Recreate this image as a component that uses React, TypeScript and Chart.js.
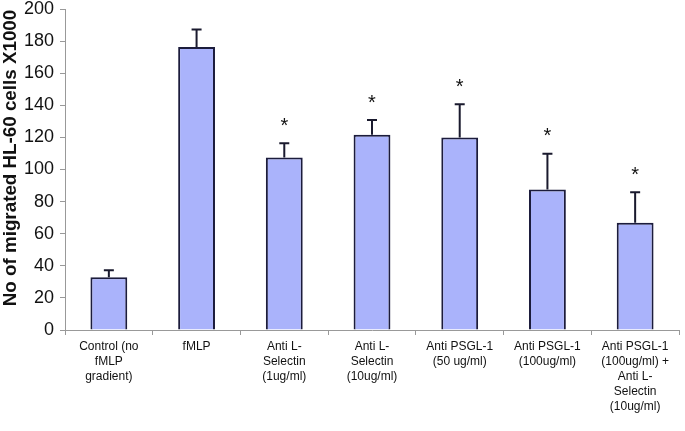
import React, { useEffect, useRef } from "react";
import { Chart, registerables } from "chart.js";

Chart.register(...registerables);

const categories: string[][] = [
  ["Control (no", "fMLP", "gradient)"],
  ["fMLP"],
  ["Anti L-", "Selectin", "(1ug/ml)"],
  ["Anti L-", "Selectin", "(10ug/ml)"],
  ["Anti PSGL-1", "(50 ug/ml)"],
  ["Anti PSGL-1", "(100ug/ml)"],
  ["Anti PSGL-1", "(100ug/ml) +", "Anti L-", "Selectin", "(10ug/ml)"],
];
const means: number[] = [32.8, 176.4, 107.4, 121.7, 120, 87.6, 66.9];
const errors: number[] = [4.4, 10.8, 8.9, 9.1, 20.6, 22.2, 18.9];
const significant: boolean[] = [false, false, true, true, true, true, true];
const yTicks: number[] = [0, 20, 40, 60, 80, 100, 120, 140, 160, 180, 200];
const yTitle = "No of migrated HL-60 cells X1000";

const FONT = "Arial, 'Liberation Sans', Helvetica, sans-serif";

const errorBarPlugin = {
  id: "errorBars",
  afterDatasetsDraw(chart: any) {
    const ctx = chart.ctx;
    const meta = chart.getDatasetMeta(0);
    const y = chart.scales.y;
    ctx.save();
    meta.data.forEach((bar: any, i: number) => {
      const x = bar.x;
      const yTop = y.getPixelForValue(means[i]);
      const yErr = y.getPixelForValue(means[i] + errors[i]);
      ctx.strokeStyle = "#1a1a2e";
      ctx.lineWidth = 2;
      ctx.beginPath();
      ctx.moveTo(x, yTop);
      ctx.lineTo(x, yErr);
      ctx.moveTo(x - 5, yErr);
      ctx.lineTo(x + 5, yErr);
      ctx.stroke();
      if (significant[i]) {
        ctx.fillStyle = "#111";
        ctx.font = "20px " + FONT;
        ctx.textAlign = "center";
        ctx.textBaseline = "middle";
        ctx.fillText("*", x, yErr - 17);
      }
    });
    ctx.restore();
  },
};

const titlePlugin = {
  id: "yTitle",
  afterDraw(chart: any) {
    const ctx = chart.ctx;
    ctx.save();
    ctx.translate(11, 158);
    ctx.rotate(-Math.PI / 2);
    ctx.fillStyle = "#111";
    ctx.font = "bold 18.8px " + FONT;
    ctx.textAlign = "center";
    ctx.textBaseline = "middle";
    ctx.fillText(yTitle, 0, 0);
    ctx.restore();
  },
};

export default function App() {
  const ref = useRef<HTMLCanvasElement | null>(null);
  useEffect(() => {
    document.body.style.margin = "0";
    if (!ref.current) return;
    const chart = new Chart(ref.current, {
      type: "bar",
      data: {
        labels: categories,
        datasets: [
          {
            data: means,
            backgroundColor: "#aab3fb",
            borderColor: "#1c1c3c",
            borderWidth: 2,
            barPercentage: 0.42,
            categoryPercentage: 1,
          },
        ],
      },
      options: {
        animation: false,
        responsive: false,
        maintainAspectRatio: false,
        layout: { padding: { top: 9, right: 6, left: 0, bottom: 0 } },
        plugins: { legend: { display: false }, tooltip: { enabled: false } },
        scales: {
          x: {
            offset: true,
            grid: {
              offset: true,
              drawOnChartArea: false,
              tickLength: 5,
              color: "#999",
            },
            border: { color: "#999", width: 1 },
            ticks: {
              color: "#111",
              font: { family: FONT, size: 12, lineHeight: 1.25 },
              maxRotation: 0,
              autoSkip: false,
              padding: 4,
            },
            afterFit: (s: any) => {
              s.height = 101;
            },
          },
          y: {
            min: 0,
            max: 200,
            afterBuildTicks: (s: any) => {
              s.ticks = yTicks.map((v) => ({ value: v }));
            },
            grid: {
              drawOnChartArea: false,
              tickLength: 5,
              color: "#999",
            },
            border: { color: "#999", width: 1 },
            ticks: {
              color: "#111",
              font: { family: FONT, size: 18 },
              padding: 6,
            },
            title: { display: false },
            afterFit: (s: any) => {
              s.width = 65;
              s.paddingTop = 0;
              s.paddingBottom = 0;
            },
          },
        },
      },
      plugins: [errorBarPlugin, titlePlugin],
    });
    return () => chart.destroy();
  }, []);
  return (
    <div style={{ width: 685, height: 431 }}>
      <canvas ref={ref} width={685} height={431} style={{ display: "block" }} />
    </div>
  );
}
